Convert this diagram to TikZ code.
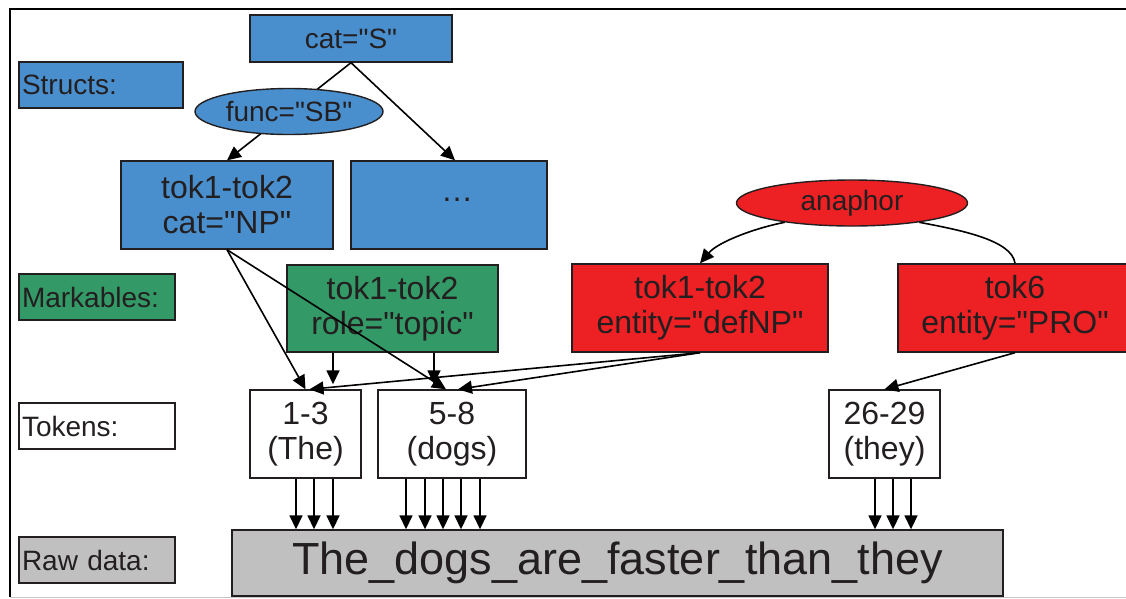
\documentclass[tikz,border=0pt]{standalone}
\usepackage{fontspec}
\setmainfont{Liberation Sans}[Ligatures=TeXOff]
\usepackage{xcolor}
\usepackage{tikz}
\usetikzlibrary{shapes.geometric,calc,arrows.meta}
\definecolor{structblue}{RGB}{74,143,205}
\definecolor{markgreen}{RGB}{51,153,102}
\definecolor{anared}{RGB}{237,32,36}
\definecolor{rawgray}{RGB}{192,192,192}
\definecolor{ink}{RGB}{35,31,32}

\begin{document}
\begin{tikzpicture}[x=1pt,y=-1pt,
        box/.style={draw=ink, line width=1.4pt, text=ink, inner sep=0pt, align=center, font=\fontsize{32}{35}\selectfont},
        lbl/.style={draw=ink, line width=1.4pt, text=ink, inner xsep=3pt, inner ysep=0pt, minimum height=46pt, align=left, font=\fontsize{28}{30}\selectfont},
        oval/.style={ellipse, draw=ink, line width=1.4pt, text=ink, inner sep=0pt, minimum height=46pt, font=\fontsize{28}{30}\selectfont},
        arr/.style={-{Triangle[length=14pt,width=13pt]}, line width=1.6pt, black}]
        \useasboundingbox (0,0) rectangle (1126,598);
        \clip (0,0) rectangle (1126,598);
        % frame
        \draw[black, line width=2.2pt] (1140,9) -- (10,9) -- (10,597);
        \draw[gray!45, line width=0.8pt] (10,597.4) -- (1140,597.4);

        % layer labels
        \node[lbl, fill=structblue, text width=158pt] (lstruct) at (101,85) {Structs:};
        \node[lbl, fill=markgreen, text width=150pt] (lmark) at (97,297) {Markables:};
        \node[lbl, fill=white, text width=150pt] (ltok) at (97,426) {Tokens:};
        \node[lbl, fill=rawgray, text width=150pt] (lraw) at (97,560) {Raw data:};

        % structs
        \node[box, fill=structblue, minimum width=202pt, minimum height=47pt, font=\fontsize{28}{30}\selectfont] (cats) at (351,38.5) {cat="S"};
        \node[box, fill=structblue, minimum width=212pt, minimum height=88pt] (np) at (227,205) {tok1-tok2\\cat="NP"};
        \node[box, fill=structblue, minimum width=196pt, minimum height=88pt] (dots) at (449,205) {\strut\hspace*{16pt}\raisebox{-7pt}{…}\\\strut};

        % markables
        \node[box, fill=markgreen, minimum width=211pt, minimum height=87pt] (topic) at (392.5,308.5) {tok1-tok2\\role="topic"};
        \node[box, fill=anared, minimum width=256pt, minimum height=88pt] (defnp) at (700,308) {tok1-tok2\\entity="defNP"};
        \node[box, fill=anared, minimum width=234pt, minimum height=88pt] (pro) at (1015,308) {tok6\\entity="PRO"};

        % tokens
        \node[box, fill=white, minimum width=111pt, minimum height=88pt] (t13) at (305.5,434) {1-3\\(The)};
        \node[box, fill=white, minimum width=148pt, minimum height=88pt] (t58) at (452,434) {5-8\\(dogs)};
        \node[box, fill=white, minimum width=111pt, minimum height=88pt] (t2629) at (884.5,434) {26-29\\(they)};

        % raw data
        \node[box, fill=rawgray, minimum width=771pt, minimum height=66pt, font=\fontsize{45}{50}\selectfont] (raw) at (617.5,563) {The\_dogs\_are\_faster\_than\_they};

        % struct edges
        \draw[arr] (cats.south) -- node[oval, fill=structblue, minimum width=188pt] (fn) {func="SB"} (np.north);
        \draw[arr] (cats.south) -- ([xshift=6pt]dots.north);
        \draw[arr] (np.south) -- (t13.north);
        \draw[arr] (np.south) -- ([xshift=-6pt]t58.north);

        % markable edges
        \coordinate (ta) at ($(t13.north)+(27.5,0)$);
        \coordinate (tb) at ($(t58.north)+(-18,0)$);
        \draw[arr, shorten >=5pt] (ta |- topic.south) -- (ta);
        \draw[arr, shorten >=5pt] (tb |- topic.south) -- (tb);
        \draw[arr] (defnp.south) -- ([xshift=4pt]t13.north);
        \draw[arr] (defnp.south) -- ([xshift=6pt]t58.north);
        \draw[arr] (pro.south) -- (t2629.north);

        % anaphor link
        \node[oval, fill=anared, minimum width=231pt] (ana) at (852,203) {anaphor};
        \draw[line width=1.6pt, black] (ana.-16) .. controls (960,230) and (1012,240) .. (pro.north);
        \draw[arr] (ana.196) .. controls (755,228) and (718,242) .. (defnp.north);

        % characters
        \foreach \dx in {-9.5,8.5,27.5}
            \draw[arr] ($(t13.south)+(\dx,0)$) -- ($(t13.south |- raw.north)+(\dx,0)$);
        \foreach \dx in {-46,-27,-9,9,28}
            \draw[arr] ($(t58.south)+(\dx,0)$) -- ($(t58.south |- raw.north)+(\dx,0)$);
        \foreach \dx in {-9.5,8.5,26.5}
            \draw[arr] ($(t2629.south)+(\dx,0)$) -- ($(t2629.south |- raw.north)+(\dx,0)$);
    \end{tikzpicture}
\end{document}
